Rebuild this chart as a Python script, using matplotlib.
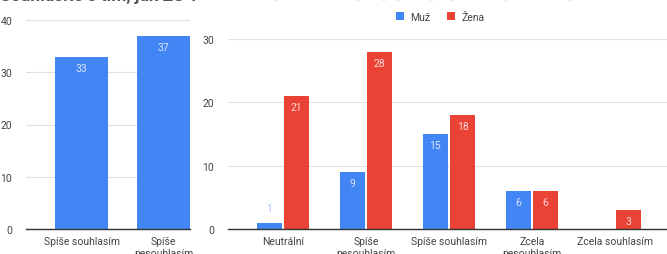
import matplotlib
matplotlib.use("Agg")
import matplotlib.pyplot as plt
import numpy as np

plt.rcParams['font.family'] = ['Roboto', 'DejaVu Sans']

# Left chart
left_categories = ["Spíše souhlasím", "Spíše\nnesouhlasím"]
left_values = [33, 37]
left_yticks = [0, 10, 20, 30, 40]

# Right chart
right_categories = ["Neutrální", "Spíše\nnesouhlasím", "Spíše souhlasím",
                    "Zcela\nnesouhlasím", "Zcela souhlasím"]
muz_values = [1, 9, 15, 6, 0]
zena_values = [21, 28, 18, 6, 3]
right_yticks = [0, 10, 20, 30]
series_names = ["Muž", "Žena"]

BLUE = "#4285F4"
RED = "#EA4335"
GRID = "#e0e0e0"
TXT = "#444444"

W, H = 667, 255
fig = plt.figure(figsize=(W / 100, H / 100), dpi=100)

def ax_rect(x0, x1, y_top, y_bot):
    return [x0 / W, 1 - y_bot / H, (x1 - x0) / W, (y_bot - y_top) / H]

# Title (cut off at top, as in the reference)
fig.text(0.0, 1.056, "Souhlasíte s tím, jak ZŠ T", fontsize=12.5, color="#555555",
         ha="left", va="top", fontweight="bold")
fig.text(0.295, 1.056, "řeší vztahy mezi žáky a jejich případné problémy?", fontsize=12.5,
         color="#e6e6e6", ha="left", va="top", fontweight="bold")

# Left axes: y=0 at 230px, y=40 at 21px
axL = fig.add_axes(ax_rect(26, 190, 21, 230))
xL = np.arange(len(left_categories))
axL.bar(xL, left_values, width=0.646, color=BLUE, zorder=3)
axL.set_xlim(-0.677, 1.323)
axL.set_ylim(0, 40)
axL.set_yticks(left_yticks)
for x, v in zip(xL, left_values):
    axL.text(x, v - 1.3, str(v), ha="center", va="top", fontsize=7.5, color="#dbe6fb", zorder=4)

# Right axes: y=0 at 230px, y=30 at 40px
axR = fig.add_axes(ax_rect(228, 667, 40, 230))
xR = np.arange(len(right_categories))
bw = 0.305
off = 0.163
axR.bar(xR - off, muz_values, width=bw, color=BLUE, zorder=3, label=series_names[0])
axR.bar(xR + off, zena_values, width=bw, color=RED, zorder=3, label=series_names[1])
axR.set_xlim(-0.663, 4.627)
axR.set_ylim(0, 30)
axR.set_yticks(right_yticks)
for x, v in zip(xR, muz_values):
    if v == 0:
        continue
    if v < 3:
        axR.text(x - off, v + 1.5, str(v), ha="center", va="bottom", fontsize=7.5, color="#a8c7fa", zorder=4)
    else:
        axR.text(x - off, v - 1.0, str(v), ha="center", va="top", fontsize=7.5, color="#dbe6fb", zorder=4)
for x, v in zip(xR, zena_values):
    if v == 0:
        continue
    axR.text(x + off, v - 1.0, str(v), ha="center", va="top", fontsize=7.5, color="#f9d6d3", zorder=4)

for ax, cats in ((axL, left_categories), (axR, right_categories)):
    ax.set_xticks(np.arange(len(cats)))
    ax.set_xticklabels(cats, fontsize=7.5, color=TXT, linespacing=1.3, va="top")
    ax.tick_params(axis="x", length=0, pad=5)
    ax.tick_params(axis="y", length=0, pad=10, labelsize=7.5, labelcolor=TXT)
    for t in ax.get_yticklabels():
        t.set_horizontalalignment("right")
    ax.grid(axis="y", color=GRID, linewidth=0.8, zorder=0)
    ax.set_axisbelow(True)
    for s in ("top", "right", "left"):
        ax.spines[s].set_visible(False)
    ax.spines["bottom"].set_color("#333333")
    ax.spines["bottom"].set_linewidth(1.0)
    ax.spines["bottom"].set_zorder(5)
    ax.set_facecolor("none")

fig.legend(handles=axR.get_legend_handles_labels()[0], labels=series_names,
           loc="center", bbox_to_anchor=(440 / W, 1 - 18 / H), ncol=2, frameon=False,
           fontsize=7.5, handlelength=0.8, handleheight=0.8, handletextpad=0.6,
           columnspacing=1.6, labelcolor=TXT)

fig.savefig("out.png", dpi=100, facecolor="white")
